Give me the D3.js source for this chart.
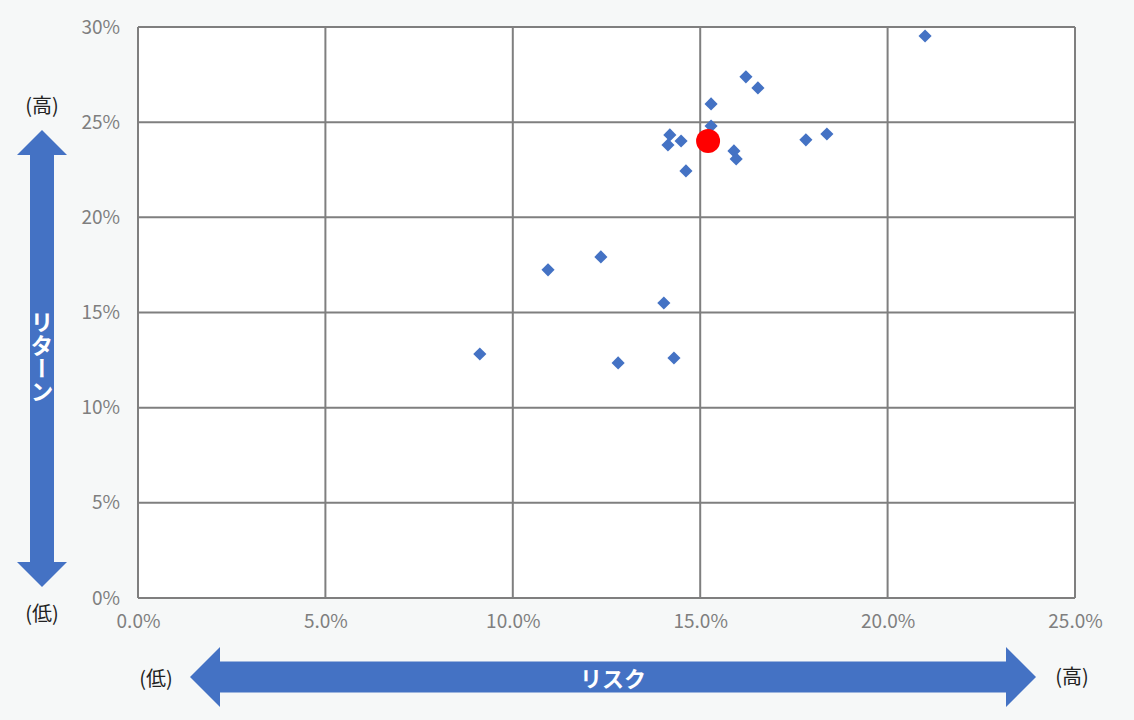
<!DOCTYPE html>
<html><head><meta charset="utf-8">
<script src="https://cdn.jsdelivr.net/npm/d3@7"></script>
<style>
html,body{margin:0;padding:0;background:#f6f8f8;}
svg{display:block;}
text{font-family:"Noto Sans CJK JP","Noto Sans",sans-serif;}
</style></head>
<body>
<svg id="c" width="1134" height="720"></svg>
<script>
const riskValues = [21.0,16.22,16.54,15.29,15.29,14.19,14.14,14.49,15.9,15.96,14.62,17.82,18.38,10.94,12.35,14.03,9.12,12.81,14.3];
const returnValues = [29.53,27.38,26.8,25.96,24.8,24.33,23.8,24.01,23.49,23.07,22.44,24.07,24.38,17.24,17.92,15.5,12.82,12.35,12.61];
const highlightRisk = [15.21];
const highlightReturn = [24.01];
const xTicks = [0,5,10,15,20,25];
const yTicks = [0,5,10,15,20,25,30];
const xTitle = "リスク";
const yTitle = "リターン";
const highLabel = "(高)";
const lowLabel = "(低)";

const svg = d3.select("#c");
const L=138,R=1075,T=27,B=598;
const x = d3.scaleLinear().domain([0,25]).range([L,R]);
const y = d3.scaleLinear().domain([0,30]).range([B,T]);

svg.append("rect").attr("x",L).attr("y",T).attr("width",R-L).attr("height",B-T).attr("fill","#fff");

const grid = svg.append("g");
grid.selectAll(".gx").data(xTicks).enter().append("line")
  .attr("x1",d=>x(d)).attr("x2",d=>x(d)).attr("y1",T).attr("y2",B)
  .attr("stroke","#7f7f7f").attr("stroke-width",2);
grid.selectAll(".gy").data(yTicks).enter().append("line")
  .attr("y1",d=>y(d)).attr("y2",d=>y(d)).attr("x1",L).attr("x2",R)
  .attr("stroke","#7f7f7f").attr("stroke-width",2);

const tickFont = "'Noto Sans CJK JP','Noto Sans',sans-serif";
const xAxis = d3.axisBottom(x).tickValues(xTicks).tickFormat(d=>d.toFixed(1)+"%").tickSize(0).tickPadding(17);
const gx = svg.append("g").attr("transform",`translate(0,${B})`).call(xAxis);
gx.select(".domain").remove();
gx.selectAll("text").attr("fill","#7f7f7f").style("font-size","19px").style("font-family",tickFont);

const yAxis = d3.axisLeft(y).tickValues(yTicks).tickFormat(d=>d+"%").tickSize(0).tickPadding(18);
const gy = svg.append("g").attr("transform",`translate(${L},0)`).call(yAxis);
gy.select(".domain").remove();
gy.selectAll("text").attr("fill","#7f7f7f").style("font-size","19px").style("font-family",tickFont);

const pts = riskValues.map((r,i)=>({r, v:returnValues[i]}));
svg.append("g").selectAll("path").data(pts).enter().append("path")
  .attr("d", d3.symbol().type(d3.symbolDiamond2).size(110))
  .attr("transform", d=>`translate(${x(d.r)},${y(d.v)})`)
  .attr("fill","#4472c4");

svg.append("g").selectAll("circle").data(highlightRisk.map((r,i)=>({r,v:highlightReturn[i]}))).enter().append("circle")
  .attr("cx",d=>x(d.r)).attr("cy",d=>y(d.v)).attr("r",12).attr("fill","#ff0000");

// vertical double arrow
const blue="#4472c4";
const vx=42, vTop=130, vBot=587, vHead=25, vHalfHead=25, vHalfShaft=12;
svg.append("path").attr("fill",blue).attr("d",
 `M${vx},${vTop} L${vx+vHalfHead},${vTop+vHead} L${vx+vHalfShaft},${vTop+vHead} L${vx+vHalfShaft},${vBot-vHead} L${vx+vHalfHead},${vBot-vHead} L${vx},${vBot} L${vx-vHalfHead},${vBot-vHead} L${vx-vHalfShaft},${vBot-vHead} L${vx-vHalfShaft},${vTop+vHead} L${vx-vHalfHead},${vTop+vHead} Z`);
svg.append("text").attr("x",vx).attr("y",357).attr("fill","#fff")
  .style("writing-mode","vertical-rl").style("font-size","23px").style("font-weight","bold")
  .attr("text-anchor","middle").attr("dominant-baseline","central").text(yTitle);

// horizontal double arrow
const hy=677, hL=190, hR=1036, hHead=30, hHalfHead=30, hHalfShaft=15.5;
svg.append("path").attr("fill",blue).attr("d",
 `M${hL},${hy} L${hL+hHead},${hy-hHalfHead} L${hL+hHead},${hy-hHalfShaft} L${hR-hHead},${hy-hHalfShaft} L${hR-hHead},${hy-hHalfHead} L${hR},${hy} L${hR-hHead},${hy+hHalfHead} L${hR-hHead},${hy+hHalfShaft} L${hL+hHead},${hy+hHalfShaft} L${hL+hHead},${hy+hHalfHead} Z`);
svg.append("text").attr("x",613).attr("y",hy).attr("fill","#fff")
  .style("font-size","22px").style("font-weight","bold")
  .attr("text-anchor","middle").attr("dominant-baseline","central").text(xTitle);

const lab = (t,xx,yy)=>svg.append("text").attr("x",xx).attr("y",yy).attr("fill","#222")
  .style("font-size","20px").attr("text-anchor","middle").attr("dominant-baseline","central").text(t);
lab(highLabel,42,104);
lab(lowLabel,42,612);
lab(lowLabel,156,677);
lab(highLabel,1072,675);
</script>
</body></html>
